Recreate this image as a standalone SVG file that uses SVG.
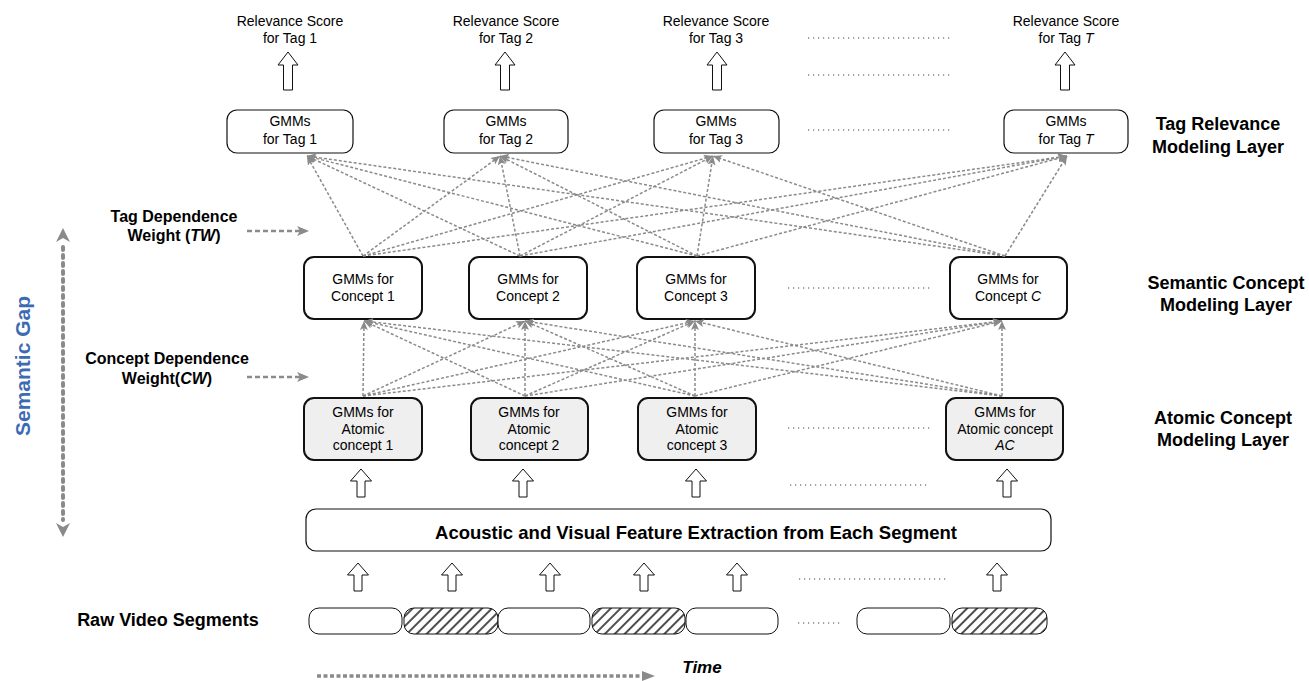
<svg xmlns="http://www.w3.org/2000/svg" width="1309" height="681" viewBox="0 0 1309 681">
<style>
  text { font-family: "Liberation Sans", Arial, sans-serif; fill: #000; }
  .t14 { font-size: 14px; text-anchor: middle; }
  .lbl { font-size: 18px; font-weight: bold; text-anchor: middle; }
  .lbl16 { font-size: 16px; font-weight: bold; text-anchor: middle; }
  .tag { fill: #fff; stroke: #111; stroke-width: 1.2; }
  .con { fill: #fff; stroke: #111; stroke-width: 2; }
  .atom { fill: #efefef; stroke: #111; stroke-width: 2; }
  .seg { fill: #fff; stroke: #111; stroke-width: 1; }
  .hseg { fill: url(#hatch); stroke: #111; stroke-width: 1; }
  .harrow { fill: #fff; stroke: #111; stroke-width: 1; }
  .dots { stroke: #444; stroke-width: 1.2; stroke-dasharray: 1.2 3.8; fill: none; }
  .conn line { stroke: #8a8a8a; stroke-width: 1.5; stroke-dasharray: 3 2; marker-end: url(#ah); }
  .thick { stroke: #8a8a8a; fill: none; }
</style>
<defs>
  <marker id="ah" markerUnits="userSpaceOnUse" markerWidth="10" markerHeight="10" refX="9" refY="5" orient="auto">
    <path d="M0,1 L9,5 L0,9 L2,5 Z" fill="#8a8a8a"/>
  </marker>
  <pattern id="hatch" width="7" height="7" patternUnits="userSpaceOnUse" patternTransform="rotate(45)">
    <rect width="7" height="7" fill="#fff"/>
    <line x1="1" y1="0" x2="1" y2="7" stroke="#222" stroke-width="1.6"/>
  </pattern>
  <path id="bigArrow" d="M0,0 L10,13 L4.5,13 L4.5,38 L-4.5,38 L-4.5,13 L-10,13 Z"/>
  <path id="smArrow" d="M0,0 L10.5,12 L4,12 L4,28 L-4,28 L-4,12 L-10.5,12 Z"/>
</defs>
<rect width="1309" height="681" fill="#fff"/>

<!-- Relevance scores -->
<g id="scores">
  <text class="t14" x="290" y="26">Relevance Score</text>
  <text class="t14" x="290" y="43">for Tag 1</text>
  <text class="t14" x="506" y="26">Relevance Score</text>
  <text class="t14" x="506" y="43">for Tag 2</text>
  <text class="t14" x="716" y="26">Relevance Score</text>
  <text class="t14" x="716" y="43">for Tag 3</text>
  <text class="t14" x="1066" y="26">Relevance Score</text>
  <text class="t14" x="1066" y="43">for Tag <tspan font-style="italic">T</tspan></text>
</g>
<g id="top-arrows" class="harrow">
  <use href="#bigArrow" x="288" y="52"/>
  <use href="#bigArrow" x="505" y="52"/>
  <use href="#bigArrow" x="717" y="52"/>
  <use href="#bigArrow" x="1065" y="52"/>
</g>

<!-- Tag GMMs -->
<g id="tag1"><rect class="tag" x="227" y="110" width="126" height="43" rx="10"/><text class="t14" x="290" y="126">GMMs</text><text class="t14" x="290" y="144">for Tag 1</text></g>
<g id="tag2"><rect class="tag" x="444" y="110" width="124" height="43" rx="10"/><text class="t14" x="506" y="126">GMMs</text><text class="t14" x="506" y="144">for Tag 2</text></g>
<g id="tag3"><rect class="tag" x="654" y="110" width="125" height="43" rx="10"/><text class="t14" x="716" y="126">GMMs</text><text class="t14" x="716" y="144">for Tag 3</text></g>
<g id="tagT"><rect class="tag" x="1004" y="110" width="124" height="43" rx="10"/><text class="t14" x="1066" y="126">GMMs</text><text class="t14" x="1066" y="144">for Tag <tspan font-style="italic">T</tspan></text></g>

<!-- Concept GMMs -->
<g id="concept1"><rect class="con" x="304" y="257" width="118" height="62" rx="10"/><text class="t14" x="363" y="284">GMMs for</text><text class="t14" x="363" y="301">Concept 1</text></g>
<g id="concept2"><rect class="con" x="469" y="257" width="118" height="62" rx="10"/><text class="t14" x="528" y="284">GMMs for</text><text class="t14" x="528" y="301">Concept 2</text></g>
<g id="concept3"><rect class="con" x="637" y="257" width="118" height="62" rx="10"/><text class="t14" x="696" y="284">GMMs for</text><text class="t14" x="696" y="301">Concept 3</text></g>
<g id="conceptC"><rect class="con" x="950" y="257" width="117" height="62" rx="10"/><text class="t14" x="1008" y="284">GMMs for</text><text class="t14" x="1008" y="301">Concept <tspan font-style="italic">C</tspan></text></g>

<!-- Atomic GMMs -->
<g id="atomic1"><rect class="atom" x="304" y="398" width="118" height="62" rx="10"/><text class="t14" x="363" y="417">GMMs for</text><text class="t14" x="363" y="434">Atomic</text><text class="t14" x="363" y="450">concept 1</text></g>
<g id="atomic2"><rect class="atom" x="471" y="398" width="117" height="62" rx="10"/><text class="t14" x="529" y="417">GMMs for</text><text class="t14" x="529" y="434">Atomic</text><text class="t14" x="529" y="450">concept 2</text></g>
<g id="atomic3"><rect class="atom" x="638" y="398" width="118" height="62" rx="10"/><text class="t14" x="697" y="417">GMMs for</text><text class="t14" x="697" y="434">Atomic</text><text class="t14" x="697" y="450">concept 3</text></g>
<g id="atomicAC"><rect class="atom" x="946" y="398" width="117" height="62" rx="10"/><text class="t14" x="1005" y="417">GMMs for</text><text class="t14" x="1005" y="434">Atomic concept</text><text class="t14" x="1005" y="450" font-style="italic">AC</text></g>

<!-- connectors -->
<g id="connectors" class="conn">
  <line x1="363" y1="256" x2="307" y2="156"/>
  <line x1="363" y1="256" x2="500" y2="156"/>
  <line x1="363" y1="256" x2="713" y2="156"/>
  <line x1="363" y1="256" x2="1067" y2="156"/>
  <line x1="520" y1="256" x2="307" y2="156"/>
  <line x1="520" y1="256" x2="500" y2="156"/>
  <line x1="520" y1="256" x2="713" y2="156"/>
  <line x1="520" y1="256" x2="1067" y2="156"/>
  <line x1="697" y1="256" x2="307" y2="156"/>
  <line x1="697" y1="256" x2="500" y2="156"/>
  <line x1="697" y1="256" x2="713" y2="156"/>
  <line x1="697" y1="256" x2="1067" y2="156"/>
  <line x1="1005" y1="256" x2="307" y2="156"/>
  <line x1="1005" y1="256" x2="500" y2="156"/>
  <line x1="1005" y1="256" x2="713" y2="156"/>
  <line x1="1005" y1="256" x2="1067" y2="156"/>

  <line x1="363" y1="396" x2="364" y2="321"/>
  <line x1="363" y1="396" x2="525" y2="321"/>
  <line x1="363" y1="396" x2="695" y2="321"/>
  <line x1="363" y1="396" x2="1002" y2="321"/>
  <line x1="525" y1="396" x2="364" y2="321"/>
  <line x1="525" y1="396" x2="525" y2="321"/>
  <line x1="525" y1="396" x2="695" y2="321"/>
  <line x1="525" y1="396" x2="1002" y2="321"/>
  <line x1="695" y1="396" x2="364" y2="321"/>
  <line x1="695" y1="396" x2="525" y2="321"/>
  <line x1="695" y1="396" x2="695" y2="321"/>
  <line x1="695" y1="396" x2="1002" y2="321"/>
  <line x1="1002" y1="396" x2="364" y2="321"/>
  <line x1="1002" y1="396" x2="525" y2="321"/>
  <line x1="1002" y1="396" x2="695" y2="321"/>
  <line x1="1002" y1="396" x2="1002" y2="321"/>
</g>

<!-- dotted ellipses -->
<g id="ellipsis-dots" class="dots">
  <line x1="808" y1="38" x2="952" y2="38"/>
  <line x1="808" y1="75" x2="952" y2="75"/>
  <line x1="808" y1="130" x2="952" y2="130"/>
  <line x1="788" y1="288" x2="930" y2="288"/>
  <line x1="788" y1="428" x2="930" y2="428"/>
  <line x1="790" y1="485" x2="930" y2="485"/>
  <line x1="799" y1="579" x2="947" y2="579"/>
  <line x1="798" y1="623" x2="841" y2="623"/>
</g>

<!-- arrows under atomic layer -->
<g id="atomic-arrows" class="harrow">
  <use href="#smArrow" x="361" y="469"/>
  <use href="#smArrow" x="523" y="469"/>
  <use href="#smArrow" x="696" y="469"/>
  <use href="#smArrow" x="1007" y="469"/>
</g>

<!-- feature extraction -->
<g id="feature">
  <rect x="306" y="509" width="745" height="42" rx="10" fill="#fff" stroke="#111" stroke-width="1.2"/>
  <text x="696" y="539" font-size="18.5" font-weight="bold" text-anchor="middle">Acoustic and Visual Feature Extraction from Each Segment</text>
</g>

<g id="segment-arrows" class="harrow">
  <use href="#smArrow" x="358" y="563"/>
  <use href="#smArrow" x="452" y="563"/>
  <use href="#smArrow" x="550" y="563"/>
  <use href="#smArrow" x="644" y="563"/>
  <use href="#smArrow" x="737" y="563"/>
  <use href="#smArrow" x="997" y="563"/>
</g>

<!-- segments -->
<g id="segments">
  <rect class="seg" x="309" y="608" width="93" height="26" rx="10"/>
  <rect class="hseg" x="404" y="608" width="94" height="26" rx="10"/>
  <rect class="seg" x="498" y="608" width="92" height="26" rx="10"/>
  <rect class="hseg" x="592" y="608" width="93" height="26" rx="10"/>
  <rect class="seg" x="686" y="608" width="92" height="26" rx="10"/>
  <rect class="seg" x="857" y="608" width="93" height="26" rx="10"/>
  <rect class="hseg" x="952" y="608" width="95" height="26" rx="10"/>
</g>

<!-- labels -->
<g id="right-labels">
  <text class="lbl" x="1218" y="130">Tag Relevance</text>
  <text class="lbl" x="1218" y="153">Modeling Layer</text>
  <text class="lbl" x="1226" y="289">Semantic Concept</text>
  <text class="lbl" x="1226" y="311">Modeling Layer</text>
  <text class="lbl" x="1223" y="424">Atomic Concept</text>
  <text class="lbl" x="1223" y="446">Modeling Layer</text>
</g>
<g id="left-labels">
  <text class="lbl16" x="174" y="222">Tag Dependence</text>
  <text class="lbl16" x="174" y="241">Weight (<tspan font-style="italic">TW</tspan>)</text>
  <text class="lbl16" x="167" y="364">Concept Dependence</text>
  <text class="lbl16" x="167" y="384">Weight(<tspan font-style="italic">CW</tspan>)</text>
  <text class="lbl" x="168" y="626">Raw Video Segments</text>
  <text x="702" y="673" font-size="17" font-weight="bold" font-style="italic" text-anchor="middle">Time</text>
  <text transform="translate(30,366) rotate(-90)" font-size="21" font-weight="bold" text-anchor="middle" style="fill:#3d6bb3">Semantic Gap</text>
</g>

<!-- weight arrows -->
<g id="weight-arrows">
  <line class="thick" x1="247" y1="231" x2="300" y2="231" stroke-width="2.5" stroke-dasharray="5 3"/>
  <path d="M297,226 L309,231 L297,236 L300,231 Z" fill="#8a8a8a"/>
  <line class="thick" x1="247" y1="377" x2="300" y2="377" stroke-width="2.5" stroke-dasharray="5 3"/>
  <path d="M297,372 L309,377 L297,382 L300,377 Z" fill="#8a8a8a"/>
</g>

<!-- semantic gap arrow -->
<g id="gap-arrow">
  <line class="thick" x1="63" y1="247" x2="63" y2="520" stroke-width="4" stroke-dasharray="3 5" stroke-linecap="round"/>
  <path d="M63,228 L70,242 L63,238 L56,242 Z" fill="#8a8a8a"/>
  <path d="M63,537 L70,523 L63,527 L56,523 Z" fill="#8a8a8a"/>
</g>

<!-- time arrow -->
<g id="time-arrow">
  <line class="thick" x1="317" y1="676" x2="644" y2="676" stroke-width="3.5" stroke-dasharray="4 2.5"/>
  <path d="M642,671 L655,676 L642,681 Z" fill="#8a8a8a"/>
</g>
</svg>
